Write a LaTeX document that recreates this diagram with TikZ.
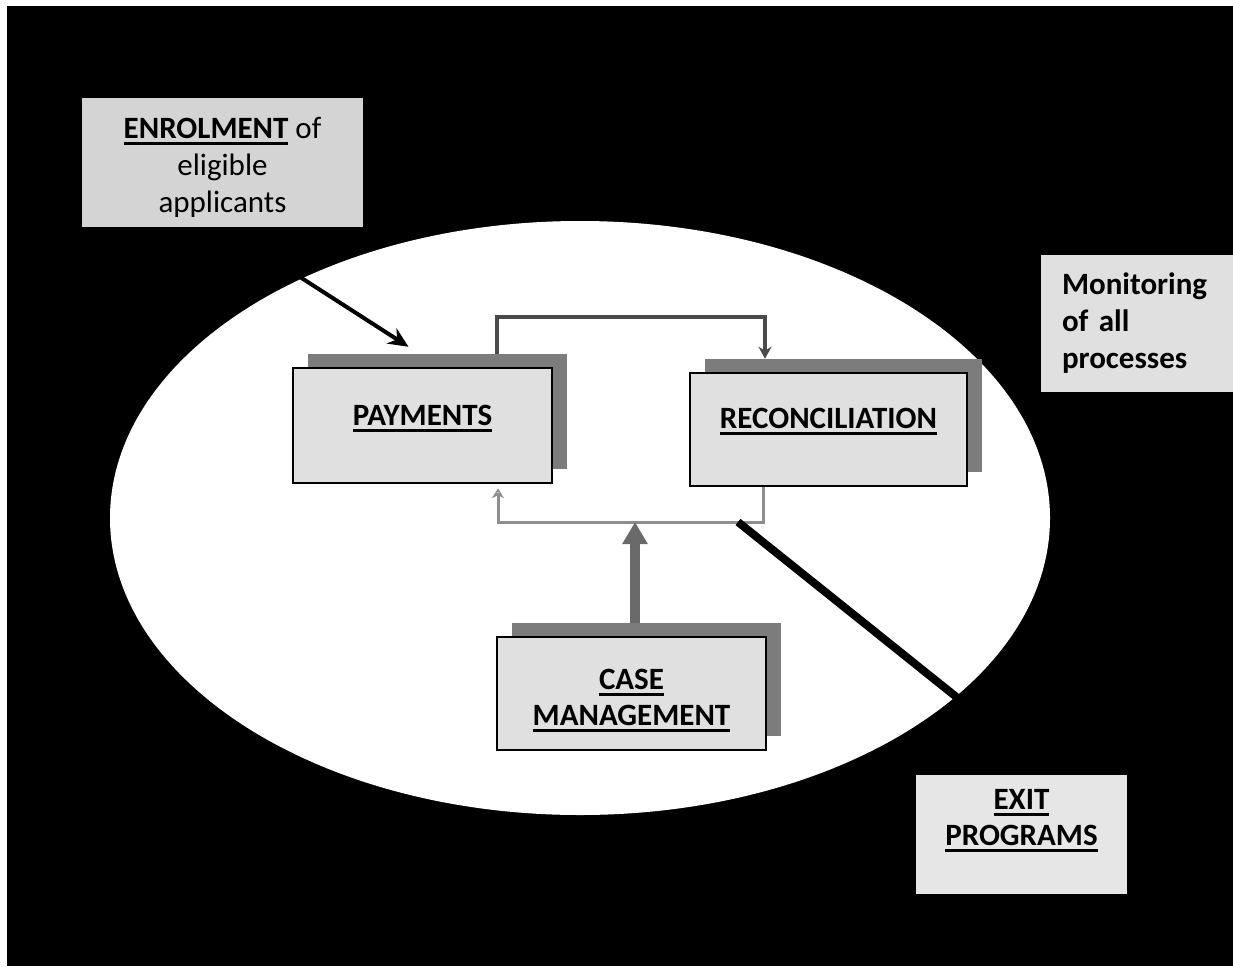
\documentclass[tikz,border=0pt]{standalone}
\usepackage{fontspec}
\setmainfont{Carlito}
\usetikzlibrary{shadows,arrows.meta,calc}
\definecolor{boxfill}{HTML}{E0E0E0}
\definecolor{enrfill}{HTML}{D4D4D4}
\definecolor{exitfill}{HTML}{E6E6E6}
\definecolor{shadowgray}{HTML}{7C7C7C}
\definecolor{topline}{HTML}{4A4A4A}
\definecolor{botline}{HTML}{8E8E8E}
\definecolor{casegray}{HTML}{6A6A6A}
\newcommand\ulword[1]{\setbox0\hbox{#1}\rlap{\rule[-6pt]{\wd0}{2.8pt}}\box0}
\pgfdeclarelayer{bg}
\pgfsetlayers{bg,main}
\tikzset{
  procbox/.style={draw=black, line width=2.5pt, fill=boxfill, inner sep=0pt,
    general shadow={fill=shadowgray, shadow xshift=15pt, shadow yshift=14pt}},
  sidebox/.style={fill=boxfill, inner sep=0pt},
  boxtext/.style={font=\fontsize{31}{36}\selectfont\bfseries, align=center, inner sep=0pt},
  enrtext/.style={font=\fontsize{31}{37}\selectfont, align=center, inner sep=0pt},
  enrarrow/.style={draw=black, line width=4pt, -{Stealth[length=20pt,width=18pt]}},
  toparrow/.style={draw=topline, line width=4pt, -{Stealth[length=12pt,width=13pt]}},
  botarrow/.style={draw=botline, line width=3pt, -{Stealth[length=10pt,width=12pt,fill=white]}},
  casearrow/.style={draw=casegray, line width=10pt, -{Triangle[length=22pt,width=24pt]}},
  exitline/.style={draw=black, line width=8pt}
}
\begin{document}
\begin{tikzpicture}[x=1pt,y=-1pt]
\useasboundingbox (0,0) rectangle (1233,966);
\begin{pgfonlayer}{bg}
  \fill[white] (0,0) rectangle (1233,966);
  \fill[black] (7,6) rectangle (1233,966);
  \fill[white] (580,518) ellipse [x radius=470pt, y radius=297pt];
\end{pgfonlayer}

\node[sidebox, fill=enrfill, minimum width=281pt, minimum height=129pt,
  label={[enrtext,name=enrt,yshift=-5pt]center:{\ulword{\bfseries ENROLMENT}\ of\\eligible\\applicants}}]
  (enr) at (222.5,162.5) {};

\node[sidebox, text width=150pt, inner xsep=21pt, minimum height=137pt, align=left,
  font=\fontsize{31}{37}\selectfont\bfseries] (mon) at (1137,323.5) {Monitoring\\of all\\processes};

\node[sidebox, fill=exitfill, minimum width=211pt, minimum height=119pt,
  label={[boxtext,name=exitt,yshift=14pt]center:{\ulword{EXIT}\\\ulword{PROGRAMS}}}]
  (exit) at (1021.5,834.5) {};

\node[procbox, minimum width=259pt, minimum height=115pt,
  label={[boxtext,name=payt,yshift=7pt]center:{\ulword{PAYMENTS}}}]
  (pay) at (422.5,425.5) {};

\node[procbox, minimum width=277pt, minimum height=113pt,
  label={[boxtext,name=rect,yshift=8pt]center:{\ulword{RECONCILIATION}}}]
  (rec) at (828.5,429.5) {};

\node[procbox, minimum width=269pt, minimum height=113pt,
  label={[boxtext,name=caset,yshift=-7pt]center:{\ulword{CASE}\\\ulword{MANAGEMENT}}}]
  (case) at (631.5,693.5) {};

\begin{pgfonlayer}{bg}
  \coordinate (junc) at (635,522);
  \coordinate (xj) at (738,522);
  \draw[enrarrow] (enr.south) -- ($(pay.north)+(-14,-20)$);
  \draw[toparrow] ($(pay.north)+(74.5,0)$) -- ++(0,-50) -| ($(rec.north)+(-63.5,-13)$);
  \draw[botarrow] ($(rec.south)+(-65.5,0)$) |- (junc) -| ($(pay.south)+(75.5,4)$);
  \draw[casearrow] (case.north -| junc) -- (junc);
  \draw[exitline] (xj) -- ($(exit.north)+(32,0)$);
\end{pgfonlayer}
\end{tikzpicture}
\end{document}
